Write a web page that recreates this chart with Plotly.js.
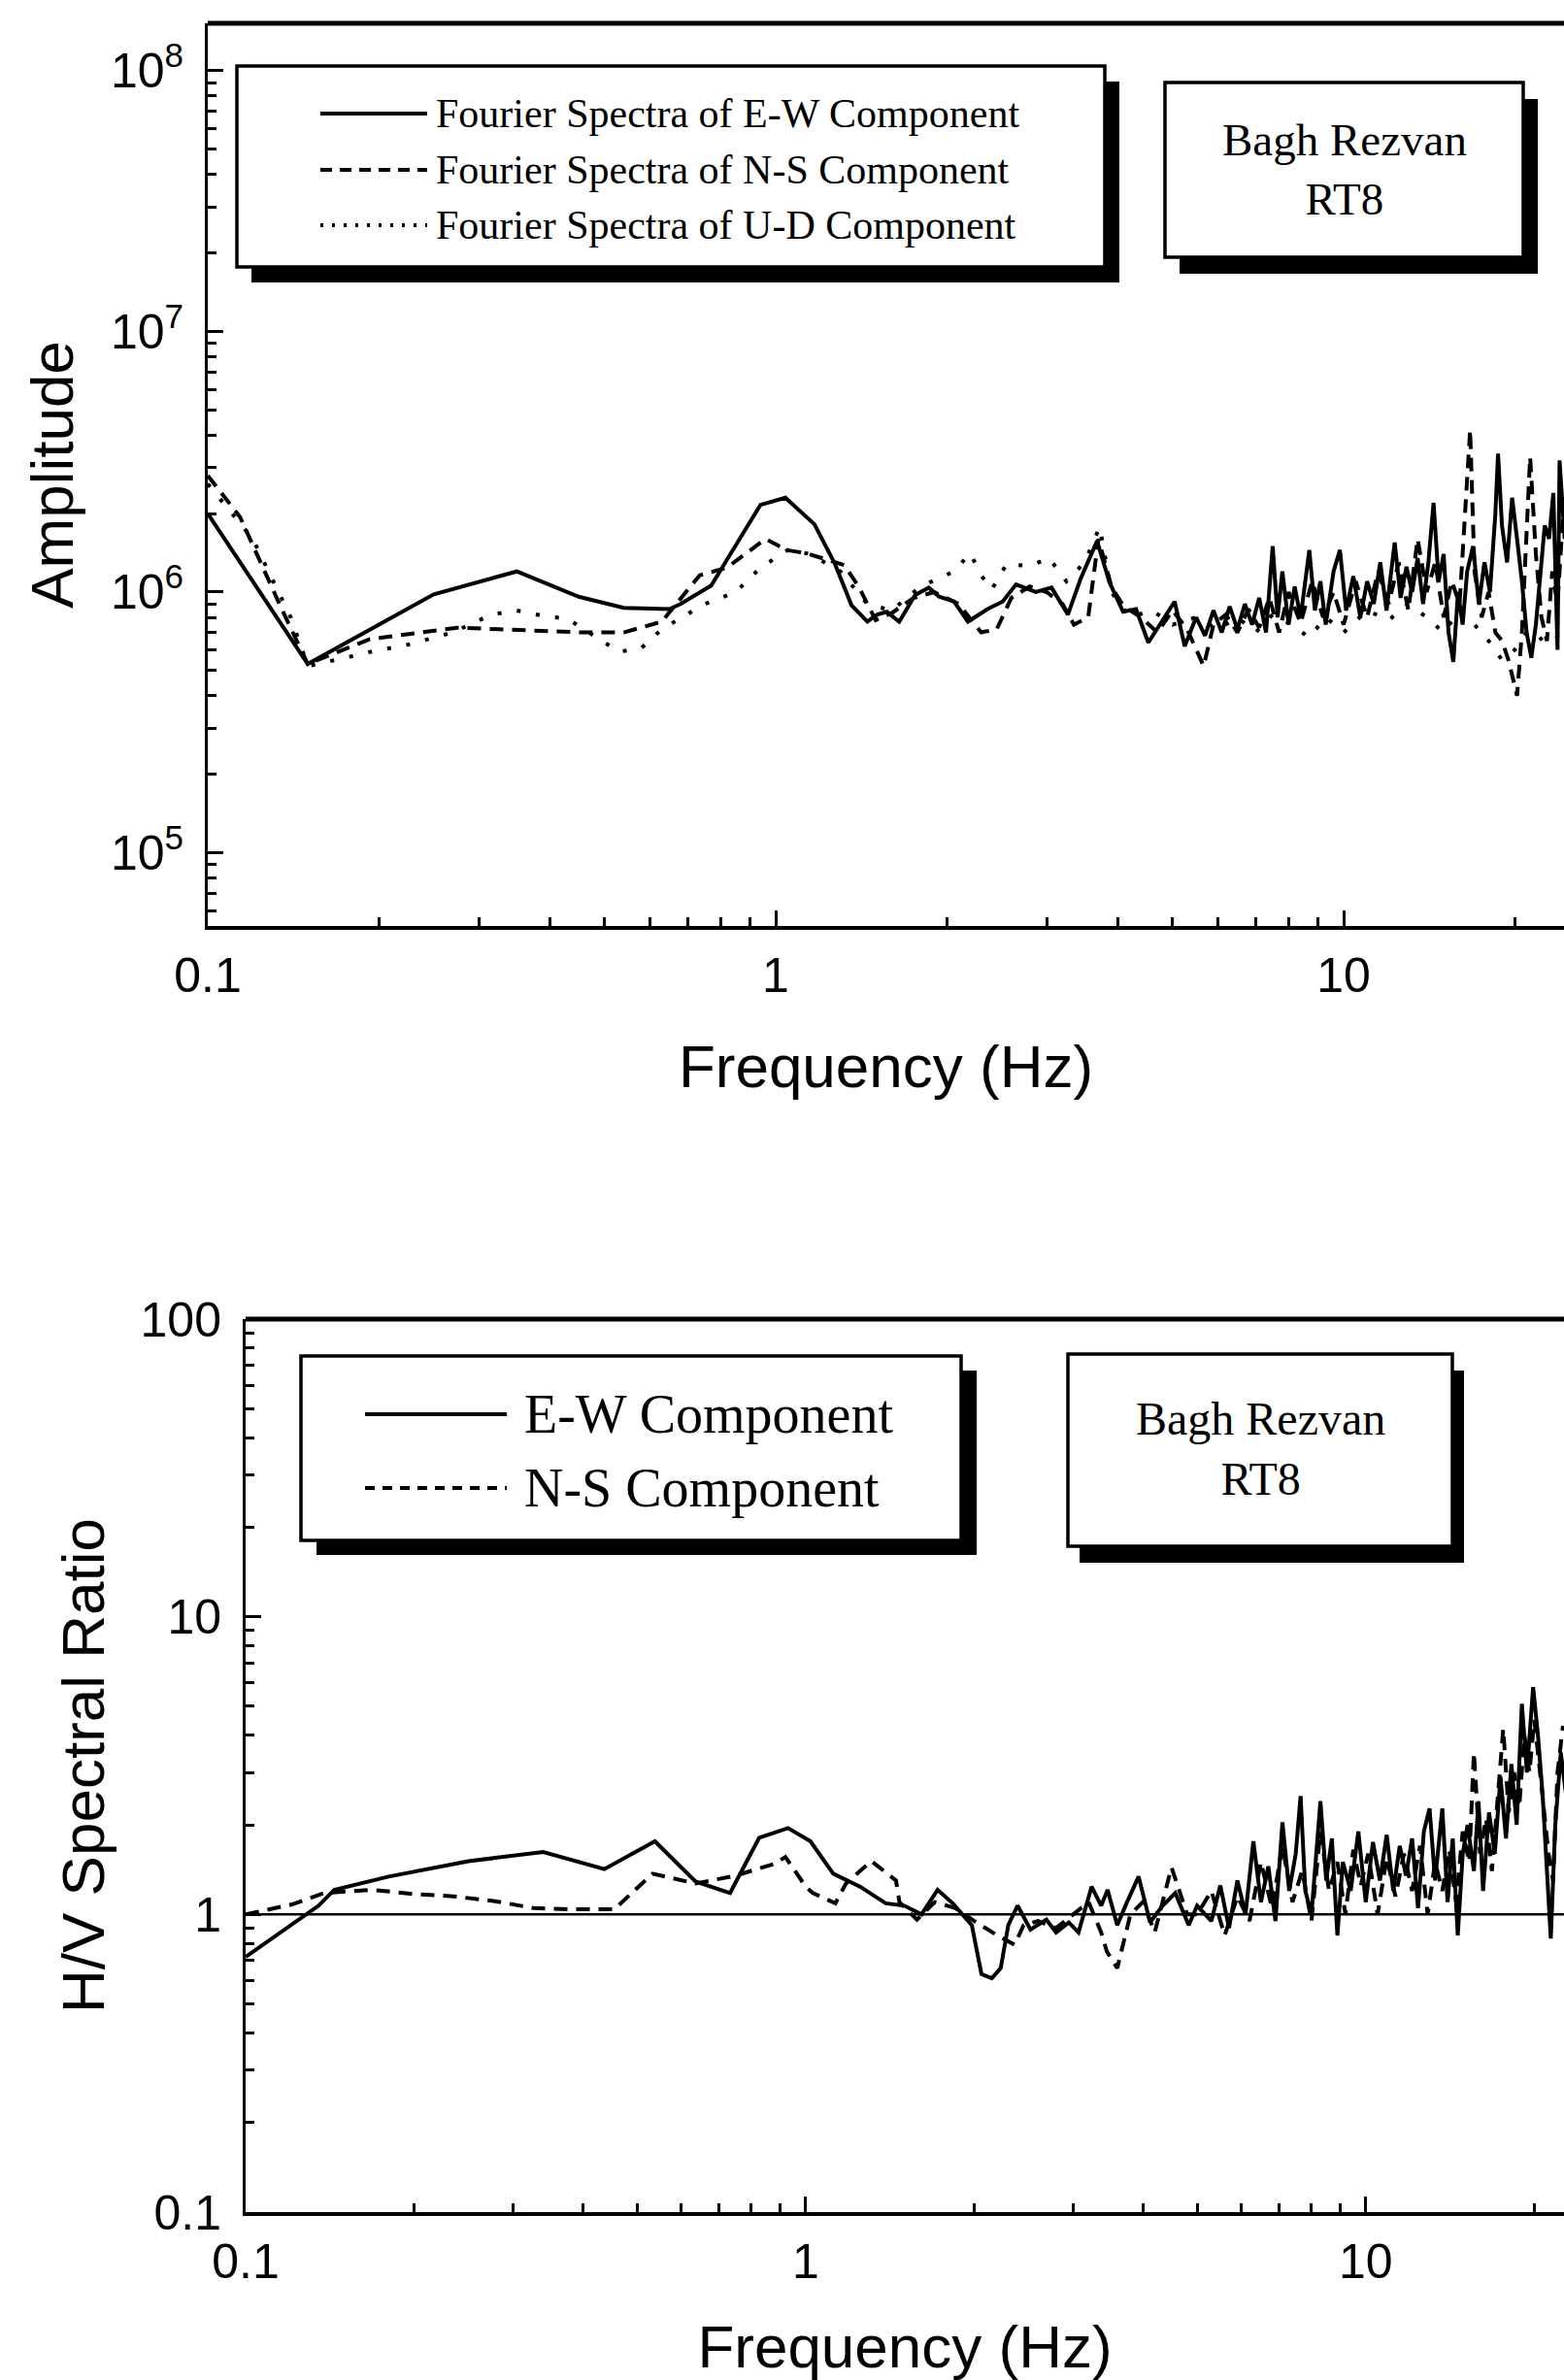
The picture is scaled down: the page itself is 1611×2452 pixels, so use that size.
<!DOCTYPE html>
<html><head><meta charset="utf-8">
<script src="https://cdn.plot.ly/plotly-3.0.1.min.js"></script>
<style>html,body{margin:0;padding:0;background:#fff;overflow:hidden}</style>
</head><body><div id="chart" style="width:1611px;height:2452px"></div>
<script>
// ---------- Top panel: Fourier spectra ----------
const fftFreqEW = [0.1,0.15,0.25,0.35,0.45,0.54,0.65,0.68,0.77,0.82,0.94,1.04,1.17,1.27,1.36,1.45,1.51,1.57,1.65,1.76,1.86,1.94,2.06,2.18,2.36,2.51,2.65,2.87,3.06,3.27,3.44,3.68,3.87,4.09,4.31,4.53,4.79,5.04,5.25,
 5.5,5.7,5.9,6.1,6.3,6.5,6.7,6.9,7.1,7.3,7.5,7.65,7.8,8.0,8.2,8.4,8.7,8.9,9.1,9.3,9.6,9.85,10.1,10.4,10.7,11.0,11.3,11.6,11.9,12.3,12.6,12.9,13.2,13.5,13.8,14.1,14.4,14.7,15.0,15.3,15.6,15.9,16.2,16.5,16.9,17.3,17.7,18.1,18.5,18.7,19.0,19.4,19.8,20.2,20.6,21.0,21.4,21.8,22.2,22.6,23.0,23.4,23.8,24.0,24.5];
const fftAmpEW = [2.0e6,5.3e5,9.8e5,1.2e6,9.6e5,8.7e5,8.6e5,9.0e5,1.06e6,1.33e6,2.16e6,2.3e6,1.82e6,1.29e6,8.9e5,7.7e5,8.2e5,8.4e5,7.7e5,9.75e5,1.04e6,9.6e5,9.2e5,7.7e5,8.6e5,9.2e5,1.07e6,1.0e6,1.04e6,8.2e5,1.12e6,1.57e6,1.09e6,8.4e5,8.6e5,6.4e5,7.7e5,9.2e5,6.2e5,
 8.0e5,6.8e5,8.5e5,7.0e5,8.8e5,7.2e5,9.0e5,7.5e5,9.5e5,7.0e5,1.5e6,8.0e5,1.2e6,7.5e5,1.05e6,8.0e5,1.45e6,8.5e5,1.1e6,7.5e5,1.2e6,1.45e6,8.5e5,1.15e6,8.0e5,1.1e6,9.0e5,1.3e6,8.5e5,1.55e6,9.5e5,1.25e6,1.0e6,1.35e6,9.0e5,1.3e6,2.2e6,1.1e6,1.4e6,7.0e5,5.4e5,1.0e6,7.5e5,1.2e6,1.5e6,9.0e5,1.3e6,1.0e6,2.0e6,3.4e6,1.8e6,1.3e6,2.3e6,1.6e6,1.1e6,7.0e5,5.6e5,7.5e5,1.2e6,1.8e6,1.6e6,2.4e6,6.0e5,3.2e6,1.6e6];

const fftFreqNS = [0.1,0.114,0.135,0.15,0.193,0.235,0.275,0.326,0.386,0.46,0.54,0.63,0.735,0.82,0.96,1.045,1.13,1.32,1.4,1.5,1.6,1.75,1.9,2.1,2.3,2.45,2.6,2.8,3.0,3.2,3.35,3.55,3.7,3.9,4.1,4.4,4.7,5.0,5.3,5.67,5.9,6.2,6.5,6.8,7.1,7.4,7.7,8.0,8.4,8.8,9.2,9.6,10.0,10.5,11.0,11.5,12.0,12.5,13.0,13.5,14.0,14.5,15.0,15.5,16.0,16.7,17.0,17.5,18.0,18.5,19.0,19.5,20.2,20.6,21.3,21.8,22.3,22.8,23.3,23.8,24.5];
const fftAmpNS = [2.8e6,1.94e6,8.6e5,5.3e5,6.6e5,7.0e5,7.3e5,7.2e5,7.1e5,7.0e5,7.0e5,7.7e5,1.16e6,1.24e6,1.6e6,1.45e6,1.41e6,1.27e6,1.05e6,7.8e5,8.3e5,9.5e5,1.0e6,9.0e5,7.0e5,7.2e5,9.5e5,1.05e6,1.0e6,9.0e5,7.5e5,8.0e5,1.6e6,1.05e6,8.8e5,8.0e5,7.0e5,8.5e5,7.2e5,5.2e5,7.5e5,8.2e5,7.0e5,8.6e5,7.3e5,9.5e5,7.0e5,1.0e6,7.6e5,1.1e6,8.0e5,1.0e6,7.5e5,1.1e6,8.0e5,1.2e6,9.0e5,1.3e6,8.5e5,1.6e6,1.0e6,1.3e6,8.0e5,1.1e6,9.0e5,4.2e6,1.2e6,8.0e5,1.0e6,7.0e5,6.5e5,5.5e5,4.0e5,7.0e5,3.3e6,1.4e6,8.0e5,6.5e5,1.2e6,9.0e5,2.5e6];

const fftFreqUD = [0.1,0.12,0.14,0.15,0.175,0.2,0.22,0.27,0.316,0.35,0.39,0.43,0.53,0.58,0.63,0.75,0.85,0.94,1.05,1.15,1.3,1.45,1.6,1.8,2.06,2.2,2.3,2.4,2.55,2.8,3.03,3.25,3.5,3.72,3.9,4.2,4.6,5.0,5.5,6.0,6.5,7.0,7.5,8.0,8.7,9.3,10.0,11.0,12.0,13.0,14.0,15.0,16.0,17.0,18.0,19.0,20.0,21.0,22.0,23.0,24.5];
const fftAmpUD = [2.6e6,1.6e6,8.0e5,5.2e5,5.6e5,6.0e5,6.2e5,7.0e5,8.2e5,8.5e5,8.1e5,7.9e5,5.9e5,6.1e5,7.2e5,9.0e5,1.0e6,1.24e6,1.45e6,1.4e6,1.2e6,9.0e5,8.5e5,1.05e6,1.2e6,1.41e6,1.16e6,1.02e6,1.28e6,1.26e6,1.35e6,1.1e6,1.3e6,1.78e6,1.0e6,8.0e5,8.5e5,7.5e5,8.0e5,7.2e5,8.0e5,7.0e5,8.2e5,7.6e5,6.7e5,8.0e5,7.0e5,8.5e5,7.8e5,9.0e5,8.0e5,7.0e5,8.5e5,7.5e5,6.5e5,5.5e5,6.0e5,7.0e5,6.5e5,7.0e5,6.5e5];

// ---------- Bottom panel: H/V spectral ratio ----------
const hvFreqEW = [0.1,0.135,0.144,0.18,0.25,0.34,0.437,0.538,0.636,0.733,0.785,0.826,0.93,1.02,1.12,1.25,1.39,1.5,1.61,1.72,1.83,1.98,2.06,2.15,2.23,2.30,2.39,2.52,2.69,2.80,2.95,3.07,3.24,3.37,3.46,3.60,3.74,3.93,4.12,4.34,4.57,4.83,
 5.0,5.3,5.5,5.7,5.9,6.1,6.3,6.5,6.7,6.9,7.1,7.3,7.5,7.65,7.8,8.0,8.3,8.5,8.7,8.9,9.1,9.4,9.7,10.0,10.3,10.6,10.9,11.2,11.5,11.8,12.1,12.4,12.7,13.0,13.3,13.7,14.0,14.3,14.6,14.9,15.2,15.6,15.9,16.2,16.6,17.0,17.4,17.8,18.2,18.6,19.0,19.4,19.9,20.3,20.7,21.0,21.4,21.8,22.3,22.8];
const hvRatioEW = [0.72,1.07,1.21,1.34,1.51,1.62,1.42,1.76,1.29,1.18,1.51,1.81,1.95,1.76,1.37,1.24,1.09,1.07,1.0,1.21,1.09,0.92,0.63,0.61,0.66,0.92,1.07,0.89,0.96,0.87,0.94,0.87,1.24,1.07,1.21,0.92,1.09,1.34,0.94,1.07,1.18,0.92,
 1.07,0.95,1.25,0.9,1.3,1.0,1.76,1.1,1.45,0.95,2.04,1.2,1.6,2.5,1.2,1.0,2.4,1.3,1.8,0.85,1.5,1.2,1.9,1.1,1.75,1.3,1.85,1.2,1.7,1.35,1.8,1.05,1.9,2.27,1.3,2.27,1.1,1.8,0.85,1.6,2.0,1.4,2.4,1.2,2.2,1.6,2.9,1.8,3.2,2.0,5.1,3.0,5.8,4.0,2.5,1.5,0.83,2.0,3.5,2.5];

const hvFreqNS = [0.1,0.121,0.138,0.168,0.2,0.235,0.277,0.327,0.384,0.455,0.533,0.636,0.75,0.88,0.92,1.0,1.03,1.13,1.18,1.31,1.45,1.47,1.58,1.7,1.85,2.0,2.2,2.36,2.45,2.6,2.8,3.0,3.2,3.37,3.45,3.6,3.8,4.0,4.2,4.5,4.8,
 5.0,5.3,5.6,5.9,6.2,6.5,6.8,7.1,7.4,7.7,8.0,8.3,8.6,8.9,9.2,9.5,9.8,10.1,10.5,10.9,11.3,11.7,12.1,12.5,12.9,13.3,13.7,14.1,14.5,14.9,15.3,15.6,16.0,16.4,16.8,17.2,17.6,18.0,18.4,18.8,19.2,19.6,20.0,20.4,20.8,21.2,21.6,22.0,22.5];
const hvRatioNS = [1.0,1.08,1.18,1.21,1.17,1.15,1.11,1.05,1.04,1.04,1.37,1.27,1.35,1.48,1.56,1.24,1.18,1.09,1.27,1.51,1.3,1.1,0.96,1.1,1.05,0.95,0.85,0.79,0.92,0.95,0.9,1.0,1.1,0.87,0.75,0.66,1.0,1.1,0.87,1.44,1.0,
 1.0,1.2,0.85,1.15,0.95,1.5,1.05,1.7,1.1,1.4,0.95,1.9,1.2,1.5,1.0,1.65,1.25,1.6,1.0,1.55,1.15,1.6,1.2,1.7,1.0,1.5,1.2,1.65,1.1,1.9,1.5,3.5,1.6,2.1,1.4,2.5,4.2,2.2,3.0,2.3,4.0,3.0,4.5,3.2,2.2,1.6,1.3,3.0,4.3];

// ---------- Tick labels ----------
const freqTickVals = [0.1, 1, 10];
const freqTickText = ['0.1', '1', '10'];
const freqMinorVals = [0.2,0.3,0.4,0.5,0.6,0.7,0.8,0.9,2,3,4,5,6,7,8,9,20];
const ampTickVals = [1e5, 1e6, 1e7, 1e8];
const ampTickText = ['10<sup>5</sup>', '10<sup>6</sup>', '10<sup>7</sup>', '10<sup>8</sup>'];
const ampMinorVals = [6e4,7e4,8e4,9e4,2e5,3e5,4e5,5e5,6e5,7e5,8e5,9e5,2e6,3e6,4e6,5e6,6e6,7e6,8e6,9e6,2e7,3e7,4e7,5e7,6e7,7e7,8e7,9e7];
const hvTickVals = [0.1, 1, 10, 100];
const hvTickText = ['0.1', '1', '10', '100'];
const hvMinorVals = [0.2,0.3,0.4,0.5,0.6,0.7,0.8,0.9,2,3,4,5,6,7,8,9,20,30,40,50,60,70,80,90];

const legendTop = ['Fourier Spectra of E-W Component','Fourier Spectra of N-S Component','Fourier Spectra of U-D Component'];
const legendBottom = ['E-W Component','N-S Component'];
const stationName = 'Bagh Rezvan<br>RT8';

// ---------- Layout helpers (pixel -> paper) ----------
const W = 1611, H = 2452;
const PX = x => x / W;
const PY = y => 1 - y / H;
const SANS = 'Liberation Sans, Arial, Helvetica, sans-serif';
const SERIF = 'Liberation Serif, Times New Roman, serif';

const LW = 4;
const traces = [
  {x: fftFreqUD, y: fftAmpUD, xaxis:'x', yaxis:'y', mode:'lines', line:{color:'#000', width:4, dash:'4px,16px'}},
  {x: fftFreqNS, y: fftAmpNS, xaxis:'x', yaxis:'y', mode:'lines', line:{color:'#000', width:LW, dash:'14px,9px'}},
  {x: fftFreqEW, y: fftAmpEW, xaxis:'x', yaxis:'y', mode:'lines', line:{color:'#000', width:LW}},
  {x: hvFreqNS, y: hvRatioNS, xaxis:'x2', yaxis:'y2', mode:'lines', line:{color:'#000', width:LW, dash:'14px,9px'}},
  {x: hvFreqEW, y: hvRatioEW, xaxis:'x2', yaxis:'y2', mode:'lines', line:{color:'#000', width:LW}}
];

function xAxisCfg(range, domain, anchor){
  return {type:'log', range:range, domain:domain, anchor:anchor,
    showline:true, linecolor:'#000', linewidth:4, mirror:false, showgrid:false, zeroline:false,
    tickmode:'array', tickvals:freqTickVals, ticktext:freqTickText,
    ticks:'inside', ticklen:16, tickwidth:3, tickcolor:'#000', ticklabelstandoff:4,
    tickfont:{family:SANS, size:50, color:'#000'},
    minor:{tickmode:'array', tickvals:freqMinorVals, ticks:'inside', ticklen:9, tickwidth:3, tickcolor:'#000', showgrid:false},
    title:{text:'Frequency (Hz)', font:{family:SANS, size:62, color:'#000'}, standoff:46}};
}
function yAxisCfg(range, domain, anchor, tv, tt, mv, title, standoff){
  return {type:'log', range:range, domain:domain, anchor:anchor,
    showline:true, linecolor:'#000', linewidth:3, mirror:false, showgrid:false, zeroline:false,
    tickmode:'array', tickvals:tv, ticktext:tt,
    ticks:'inside', ticklen:16, tickwidth:3, tickcolor:'#000', ticklabelstandoff:12,
    tickfont:{family:SANS, size:50, color:'#000'},
    minor:{tickmode:'array', tickvals:mv, ticks:'inside', ticklen:9, tickwidth:3, tickcolor:'#000', showgrid:false},
    title:{text:title, font:{family:SANS, size:62, color:'#000'}, standoff:standoff}};
}

const topDomX = [PX(214), 1], topDomY = [PY(954), PY(24)];
const botDomX = [PX(253), 1], botDomY = [PY(2279), PY(1359)];

function boxShapes(x0,y0,x1,y1,dx,dy){
  return [
    {type:'rect', xref:'paper', yref:'paper', x0:PX(x0+dx), x1:PX(x1+dx), y0:PY(y1+dy), y1:PY(y0+dy), fillcolor:'#000', line:{width:0}, layer:'above'},
    {type:'rect', xref:'paper', yref:'paper', x0:PX(x0), x1:PX(x1), y0:PY(y1), y1:PY(y0), fillcolor:'#fff', line:{color:'#000', width:3.5}, layer:'above'}
  ];
}
function sample(x0,x1,y,dash,w){
  return {type:'line', xref:'paper', yref:'paper', x0:PX(x0), x1:PX(x1), y0:PY(y), y1:PY(y), line:{color:'#000', width:w||4, dash:dash}, layer:'above'};
}

const shapes = [
  {type:'line', xref:'x domain', yref:'y domain', x0:0, x1:1, y0:1, y1:1, line:{color:'#000', width:5}},
  {type:'line', xref:'x2 domain', yref:'y2 domain', x0:0, x1:1, y0:1, y1:1, line:{color:'#000', width:5}},
  {type:'line', xref:'x2 domain', yref:'y2', x0:0, x1:1, y0:1, y1:1, line:{color:'#000', width:2.5}},
  ...boxShapes(244,68,1138,275,15,16),
  ...boxShapes(1200,85,1569,265,15,17),
  sample(330,440,117,'solid'), sample(330,440,175,'12px,8px'), sample(330,440,232,'3px,9px'),
  ...boxShapes(310,1397,990,1587,16,15),
  ...boxShapes(1100,1395,1496,1593,12,17),
  sample(376,522,1457,'solid'), sample(376,522,1533,'10px,8px')
];

const annotations = [];
legendTop.forEach((t,i)=>annotations.push({xref:'paper', yref:'paper', x:PX(447), y:PY([117,175,232][i]), text:t, showarrow:false, xanchor:'left', yanchor:'middle', font:{family:SERIF, size:42, color:'#000'}}));
legendBottom.forEach((t,i)=>annotations.push({xref:'paper', yref:'paper', x:PX(538), y:PY([1457,1533][i]), text:t, showarrow:false, xanchor:'left', yanchor:'middle', font:{family:SERIF, size:56, color:'#000'}}));
annotations.push({xref:'paper', yref:'paper', x:PX(1385), y:PY(175), text:stationName, showarrow:false, xanchor:'center', yanchor:'middle', align:'center', font:{family:SERIF, size:47, color:'#000'}});
annotations.push({xref:'paper', yref:'paper', x:PX(1298), y:PY(1492), text:stationName, showarrow:false, xanchor:'center', yanchor:'middle', align:'center', font:{family:SERIF, size:48, color:'#000'}});

const layout = {
  width: W, height: H, margin:{l:0, r:0, t:0, b:0}, paper_bgcolor:'#fff', plot_bgcolor:'#fff',
  showlegend:false,
  xaxis: xAxisCfg([-1, 1.388], topDomX, 'y'),
  yaxis: yAxisCfg([4.719, 8.182], topDomY, 'x', ampTickVals, ampTickText, ampMinorVals, 'Amplitude', 19),
  xaxis2: xAxisCfg([-1, 1.354], botDomX, 'y2'),
  yaxis2: yAxisCfg([-1, 2], botDomY, 'x2', hvTickVals, hvTickText, hvMinorVals, 'H/V Spectral Ratio', 17),
  shapes: shapes,
  annotations: annotations
};

Plotly.newPlot('chart', traces, layout, {staticPlot:true, displayModeBar:false});
</script></body></html>
